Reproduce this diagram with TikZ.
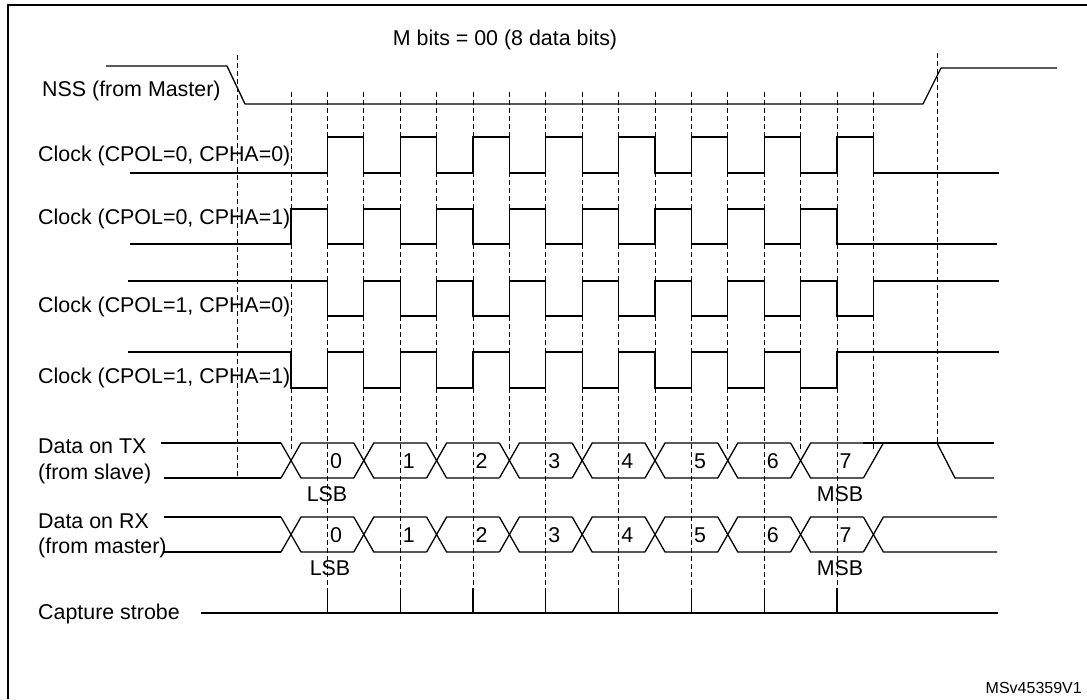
\documentclass[tikz,border=0pt]{standalone}
\usepackage{fontspec}
\setmainfont{Liberation Sans}
\begin{document}
\begin{tikzpicture}[x=1pt,y=-1pt,
  sig/.style={line width=1.3pt},
  grid/.style={line width=1pt,dash pattern=on 5pt off 3pt},
  lab/.style={anchor=west,inner sep=0pt,font=\fontsize{21.4}{21.4}\selectfont},
  num/.style={inner sep=0pt,font=\fontsize{21.4}{21.4}\selectfont}]
\useasboundingbox (0,0) rectangle (1087,699);
\fill[white] (0,0) rectangle (1087,699);
% frame
\draw[line width=2pt] (1087,5) -- (8,5) -- (8,699);
% title
\node[num] (title) at (505,40) {M bits = 00 (8 data bits)};
\node[anchor=east,inner sep=0pt,font=\fontsize{16}{16}\selectfont] (ref) at (1082,688) {MSv45359V1};
% labels
\node[lab] (lnss) at (42,91) {NSS (from Master)};
\node[lab] (lc1) at (38,156) {Clock (CPOL=0, CPHA=0)};
\node[lab] (lc2) at (38,219) {Clock (CPOL=0, CPHA=1)};
\node[lab] (lc3) at (38,307) {Clock (CPOL=1, CPHA=0)};
\node[lab] (lc4) at (38,378) {Clock (CPOL=1, CPHA=1)};
\node[lab] (ltx1) at (38,446) {Data on TX};
\node[lab] (ltx2) at (38,474) {(from slave)};
\node[lab] (lrx1) at (38,521) {Data on RX};
\node[lab] (lrx2) at (38,548) {(from master)};
\node[lab] (lcs) at (38,614) {Capture strobe};
% dashed grid
\draw[grid] (237,55) -- (237,478);
\draw[grid] (937,53) -- (937,443);
\foreach \k in {0,2,...,16}{
  \pgfmathsetmacro\xe{291+36.4*\k}
  \draw[grid] (\xe,92) -- (\xe,452);
}
\foreach \k in {1,3,...,15}{
  \pgfmathsetmacro\xe{291+36.4*\k}
  \draw[grid] (\xe,92) -- (\xe,588);
  \draw[sig] (\xe,588) -- (\xe,613);
}
% NSS
\draw[sig] (106,66) -- (227,66) -- (245,104) -- (923,104) -- (941,68) -- (1057,68);
% clocks
\draw[sig] (130,173) -- (327.4,173);
\draw[sig] (130,244) -- (291,244);
\draw[sig] (128,281) -- (327.4,281);
\draw[sig] (128,352) -- (291,352);
\foreach \i in {0,...,7}{
  \pgfmathsetmacro\a{327.4+72.8*\i}\pgfmathsetmacro\b{\a+36.4}\pgfmathsetmacro\c{\a+72.8}
  \draw[sig] (\a,173) -- (\a,137) -- (\b,137) -- (\b,173) -- (\c,173);
  \draw[sig] (\a,281) -- (\a,316) -- (\b,316) -- (\b,281) -- (\c,281);
  \pgfmathsetmacro\d{291+72.8*\i}\pgfmathsetmacro\e{\d+36.4}\pgfmathsetmacro\f{\d+72.8}
  \draw[sig] (\d,244) -- (\d,209) -- (\e,209) -- (\e,244) -- (\f,244);
  \draw[sig] (\d,352) -- (\d,388) -- (\e,388) -- (\e,352) -- (\f,352);
}
\draw[sig] (873.4,173) -- (999,173);
\draw[sig] (873.4,281) -- (999,281);
\draw[sig] (873.4,244) -- (997,244);
\draw[sig] (873.4,352) -- (999,352);
% data buses
\draw[sig] (161,443) -- (281,443);
\draw[sig] (164,478) -- (281,478);
\draw[sig] (164,517) -- (281,517);
\draw[sig] (164,552) -- (281,552);
\foreach \i in {0,...,7}{
  \pgfmathsetmacro\e{291+72.8*\i}\pgfmathsetmacro\p{\e-10}\pgfmathsetmacro\q{\e+10}
  \pgfmathsetmacro\r{\e+62.8}\pgfmathsetmacro\m{\e+45}
  \draw[sig] (\p,443) -- (\q,478) -- (\r,478);
  \draw[sig] (\p,478) -- (\q,443) -- (\r,443);
  \draw[sig] (\p,517) -- (\q,552) -- (\r,552);
  \draw[sig] (\p,552) -- (\q,517) -- (\r,517);
  \node[num] (tx\i) at (\m,461) {\i};
  \node[num] (rx\i) at (\m,535) {\i};
}
% TX end
\draw[sig] (863.4,443) -- (994,443);
\draw[sig] (863.4,478) -- (883.4,443);
\draw[sig] (937,443) -- (955,478) -- (994,478);
% RX end
\draw[sig] (863.4,517) -- (883.4,552) -- (997,552);
\draw[sig] (863.4,552) -- (883.4,517) -- (997,517);
% LSB / MSB
\node[num] (lsb1) at (327,494) {LSB};
\node[num] (lsb2) at (330,568) {LSB};
\node[num] (msb1) at (840,494) {MSB};
\node[num] (msb2) at (840,568) {MSB};
% strobe
\draw[sig] (201,613) -- (998,613);
\end{tikzpicture}
\end{document}
